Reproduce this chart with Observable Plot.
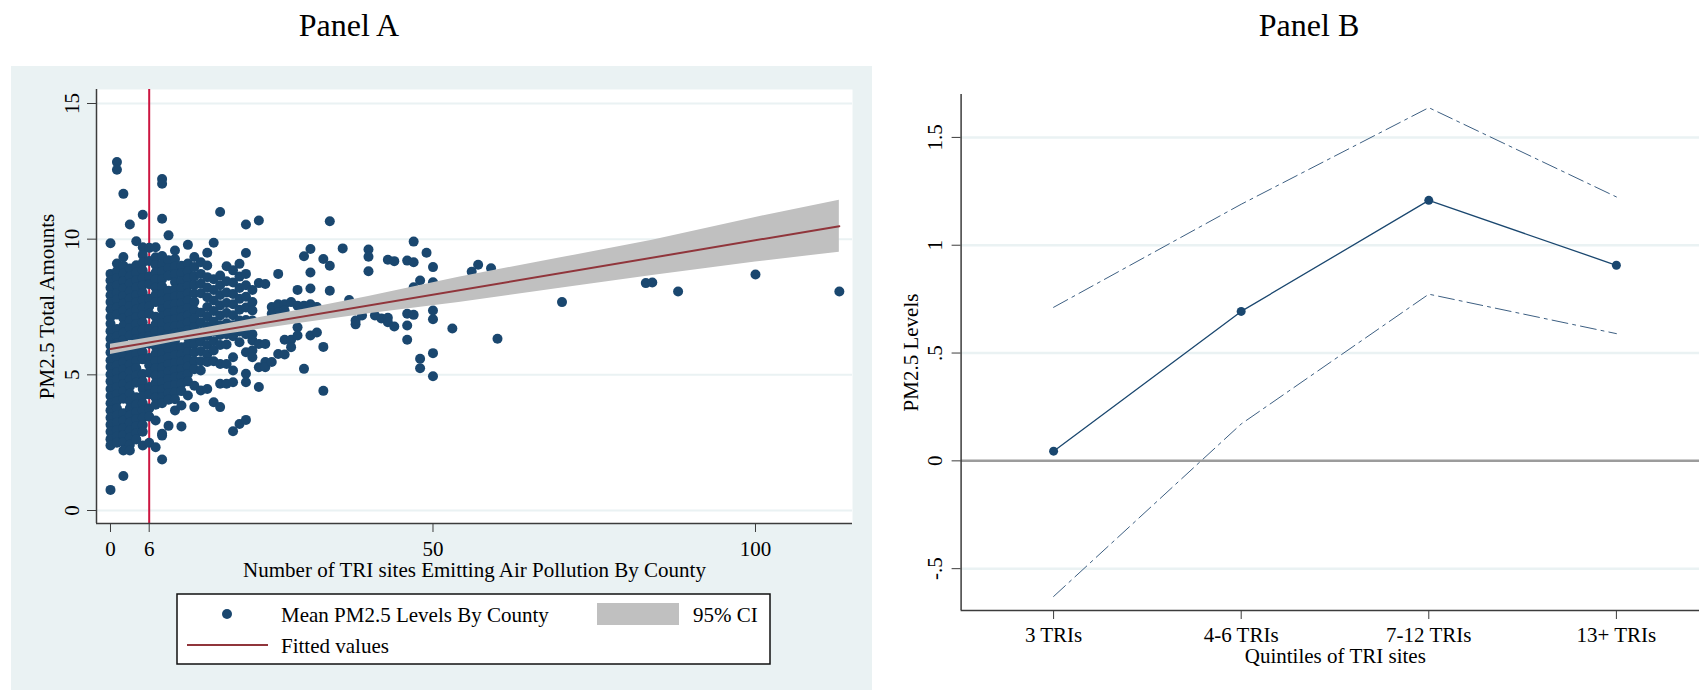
<!DOCTYPE html>
<html>
<head>
<meta charset="utf-8">
<script src="https://cdn.jsdelivr.net/npm/d3@7"></script>
<script src="https://cdn.jsdelivr.net/npm/@observablehq/plot@0.6"></script>
<style>
  html, body { margin: 0; padding: 0; background: #fff; }
  #wrap { position: relative; width: 1699px; height: 690px; overflow: hidden; background: #fff; }
  #wrap svg { position: absolute; }
</style>
</head>
<body>
<div id="wrap"></div>
<script>
const FONT = '"Liberation Serif", "Times New Roman", Times, serif';

// ---------------- Panel A data ----------------
// Each row: [number of TRI sites, PM2.5 values of counties with that count ...]
const triCountyColumns = [
  [0, 9.85, 8.72, 8.48, 8.21, 7.93, 7.68, 7.42, 7.13, 6.88, 6.61, 6.33, 6.08, 5.82, 5.54, 5.29, 5.01, 4.76, 4.48, 4.22, 3.95, 3.69, 3.42, 3.16, 2.9, 2.63, 2.4, 0.76],
  [1, 12.84, 12.56, 9.1, 8.83, 8.57, 8.29, 8.02, 7.77, 7.49, 7.22, 6.69, 6.42, 6.16, 5.88, 5.62, 5.35, 5.09, 4.82, 4.55, 4.29, 4.03, 3.76, 3.49, 3.23, 2.97, 2.72, 2.5],
  [2, 11.67, 9.34, 9.02, 8.73, 8.46, 8.18, 7.91, 7.63, 7.36, 7.09, 6.81, 6.55, 6.28, 6.02, 5.74, 5.47, 5.2, 4.93, 4.66, 4.39, 4.12, 3.58, 3.31, 3.04, 2.78, 2.52, 2.21, 1.27],
  [3, 10.54, 8.92, 8.63, 8.36, 8.08, 7.81, 7.54, 7.26, 6.99, 6.73, 6.45, 5.91, 5.64, 5.38, 5.11, 4.84, 4.57, 4.3, 4.03, 3.77, 3.5, 3.23, 2.96, 2.68, 2.42, 2.21],
  [4, 9.92, 9.04, 8.76, 8.49, 8.22, 7.94, 7.67, 7.4, 7.12, 6.86, 6.59, 6.32, 6.05, 5.78, 5.51, 5.24, 4.97, 4.71, 4.17, 3.9, 3.63, 3.36, 3.1, 2.86, 2.62],
  [5, 10.9, 9.7, 9.42, 9.13, 8.84, 8.57, 8.3, 8.02, 7.75, 7.47, 7.2, 6.93, 6.66, 6.38, 6.11, 5.84, 5.57, 5.03, 4.75, 4.48, 4.22, 3.95, 3.68, 3.42, 3.15, 2.9, 2.4],
  [6, 9.68, 9.2, 8.62, 8.34, 7.8, 7.52, 7.25, 6.7, 6.42, 6.15, 5.62, 5.35, 5.08, 4.55, 4.28, 3.76, 3.46, 2.5],
  [7, 9.7, 9.33, 9.05, 8.77, 8.5, 8.22, 7.95, 7.68, 7.14, 6.86, 6.59, 6.32, 6.05, 5.78, 5.51, 5.24, 4.97, 4.7, 4.43, 4.16, 3.9, 3.32, 2.33],
  [8, 12.22, 12.04, 10.75, 9.38, 9.08, 8.8, 8.52, 8.25, 7.98, 7.7, 7.43, 7.16, 6.89, 6.61, 6.34, 6.07, 5.8, 5.53, 5.26, 4.99, 4.72, 4.45, 4.18, 3.95, 2.83, 2.76, 1.88],
  [9, 10.14, 9.22, 8.93, 8.65, 8.1, 7.83, 7.56, 7.28, 7.01, 6.74, 6.47, 6.2, 5.93, 5.66, 5.39, 5.12, 4.85, 4.58, 4.32, 4.08, 3.12],
  [10, 9.58, 9.27, 8.98, 8.7, 8.42, 8.15, 7.88, 7.6, 7.33, 7.06, 6.79, 6.52, 6.25, 5.98, 5.71, 5.44, 5.17, 4.9, 4.63, 4.36, 4.1, 3.69],
  [11, 9.02, 8.74, 8.46, 8.19, 7.91, 7.64, 7.37, 7.1, 6.83, 6.56, 6.02, 5.75, 5.48, 5.21, 4.94, 4.67, 4.4, 3.87, 3.1],
  [12, 9.79, 9.1, 8.82, 8.54, 8.27, 8.0, 7.73, 7.46, 7.19, 6.92, 6.65, 6.38, 6.11, 5.84, 5.57, 5.3, 5.03, 4.76, 4.24],
  [13, 9.34, 8.97, 8.63, 8.31, 8.0, 7.69, 7.38, 7.07, 6.76, 6.45, 6.14, 5.83, 5.52, 5.21, 4.6, 3.81],
  [14, 9.15, 8.72, 8.36, 8.01, 7.29, 6.93, 6.58, 6.22, 5.87, 5.5, 5.16, 4.42],
  [15, 9.5, 9.03, 8.6, 8.22, 7.86, 7.5, 7.15, 6.8, 6.45, 6.1, 5.75, 5.47, 4.48],
  [16, 9.87, 8.52, 8.13, 7.74, 7.35, 6.97, 6.6, 6.24, 5.9, 5.5, 3.99],
  [17, 11.0, 8.66, 8.3, 7.94, 7.56, 7.19, 6.83, 6.47, 6.1, 5.4, 4.67, 3.81],
  [18, 9.0, 8.45, 8.03, 7.65, 7.28, 6.9, 6.5, 6.12, 5.4, 4.67],
  [19, 8.85, 8.4, 7.98, 7.6, 7.2, 6.83, 6.42, 5.65, 5.16, 4.73, 2.92],
  [20, 9.09, 8.62, 8.2, 7.8, 7.4, 7.0, 6.6, 6.2, 3.19],
  [21, 10.54, 9.49, 8.72, 8.3, 7.88, 7.48, 7.02, 6.5, 5.83, 5.04, 4.73, 3.34],
  [22, 8.13, 7.68, 7.37, 7.0, 6.5, 6.27, 5.9, 5.65],
  [23, 10.69, 8.38, 6.14, 5.28, 4.55],
  [24, 8.35, 6.14, 5.47, 5.28],
  [25, 7.5, 7.25, 5.47],
  [26, 8.72, 7.6, 7.3, 5.77],
  [27, 7.6, 7.36, 6.29, 5.75],
  [28, 7.68, 6.29, 6.02],
  [29, 8.13, 7.55, 6.75, 6.45],
  [30, 9.37, 7.55, 5.22],
  [31, 9.64, 8.77, 8.18, 7.6, 6.45],
  [32, 7.5, 6.56],
  [33, 9.27, 6.03, 4.41],
  [34, 10.66, 9.02, 8.1],
  [36, 9.66],
  [37, 7.76],
  [38, 6.86, 7.0],
  [39, 7.19],
  [40, 9.62, 9.35, 8.82],
  [41, 7.19],
  [42, 7.08],
  [43, 9.24, 7.1, 6.94],
  [44, 9.19, 6.78],
  [46, 9.21, 7.25, 6.82, 6.29],
  [47, 9.91, 9.15, 8.23, 7.21],
  [48, 8.48, 5.59, 5.24],
  [49, 9.5],
  [50, 8.97, 8.41, 7.37, 7.05, 5.8, 4.95],
  [53, 6.71],
  [56, 8.8],
  [57, 9.06],
  [59, 8.93],
  [60, 6.33],
  [70, 7.68],
  [83, 8.38],
  [84, 8.4],
  [88, 8.07],
  [100, 8.7],
  [113, 8.07]
];
const fitX = [0, 113];
const fitY = [5.95, 10.48];
const ciX  = [0,    10,   20,   30,   40,   54,   70,   84,   100,   113];
const ciLo = [5.75, 6.22, 6.57, 6.92, 7.25, 7.67, 8.2,  8.66, 9.16,  9.52];
const ciHi = [6.13, 6.52, 6.97, 7.42, 7.89, 8.6,  9.32, 9.96, 10.8,  11.43];
const xTicksA = [0, 6, 50, 100];
const yTicksA = [0, 5, 10, 15];
const refLineA = [6];
const yTitleA = "PM2.5 Total Amounts";
const xTitleA = "Number of TRI sites Emitting Air Pollution By County";

// ---------------- Panel B data ----------------
const quintileLabels = ["3 TRIs", "4-6 TRIs", "7-12 TRIs", "13+ TRIs"];
const estB = [0.045, 0.693, 1.208, 0.907];
const loB  = [-0.629, 0.171, 0.773, 0.590];
const hiB  = [0.712, 1.19, 1.638, 1.224];
const yTicksB = [-0.5, 0, 0.5, 1, 1.5];
const yTickLabelsB = ["-.5", "0", ".5", "1", "1.5"];
const yTitleB = "PM2.5 Levels";
const xTitleB = "Quintiles of TRI sites";

// ---------------- build tables ----------------
const countyPoints = triCountyColumns.flatMap(([x, ...ys]) => ys.map(y => ({x, y})));
const fitRows = fitX.map((x, i) => ({x, y: fitY[i]}));
const ciRows = ciX.map((x, i) => ({x, lo: ciLo[i], hi: ciHi[i]}));
const rowsB = quintileLabels.map((q, i) => ({pos: i + 1, label: q, est: estB[i], lo: loB[i], hi: hiB[i]}));

const AXIS = "#3c3c3c";
const wrap = document.getElementById("wrap");

// ---------------- Panel A ----------------
const xDomA = [-2.17, 115.04];
const yDomA = [-0.479, 15.516];
const plotA = Plot.plot({
  width: 861, height: 624,
  marginLeft: 85, marginRight: 20, marginTop: 23, marginBottom: 167,
  style: {background: "#eaf2f3", fontFamily: FONT, fontSize: "21px", color: "#000"},
  x: {domain: xDomA, axis: null},
  y: {domain: yDomA, axis: null},
  marks: [
    Plot.frame({fill: "#ffffff", stroke: "none"}),
    Plot.gridY(yTicksA, {stroke: "#eaf2f3", strokeOpacity: 1, strokeWidth: 2}),
    Plot.ruleX(refLineA, {stroke: "#cc1540", strokeWidth: 2}),
    Plot.dot(countyPoints, {x: "x", y: "y", r: 5, fill: "#1a476f"}),
    Plot.area(ciRows, {x1: "x", y1: "lo", y2: "hi", fill: "#c0c0c0"}),
    Plot.line(fitRows, {x: "x", y: "y", stroke: "#90353b", strokeWidth: 2}),
    Plot.ruleY([yDomA[0]], {stroke: AXIS, strokeWidth: 1.5}),
    Plot.ruleX([xDomA[0]], {stroke: AXIS, strokeWidth: 1.5}),
    Plot.axisX(xTicksA, {tickSize: 9, tickPadding: 9, stroke: AXIS, label: null, tickFormat: d => String(d)}),
    Plot.axisY(yTicksA, {tickSize: 9, stroke: AXIS, label: null, tickFormat: () => ""}),
    Plot.text(yTicksA, {x: () => xDomA[0], y: d => d, text: d => String(d), rotate: -90, dx: -24, textAnchor: "middle", lineAnchor: "middle"}),
    Plot.text([yTitleA], {frameAnchor: "left", text: d => d, dx: -49, rotate: -90, textAnchor: "middle", lineAnchor: "middle"}),
    Plot.text([xTitleA], {frameAnchor: "bottom", text: d => d, dy: 47, textAnchor: "middle", lineAnchor: "middle"})
  ]
});
plotA.style.left = "11px";
plotA.style.top = "66px";
wrap.appendChild(plotA);

// ---------------- Panel B ----------------
const xDomB = [0.507, 4.443];
const yDomB = [-0.694, 1.699];
const plotB = Plot.plot({
  width: 826, height: 624,
  marginLeft: 87.6, marginRight: 0, marginTop: 28, marginBottom: 80,
  style: {background: "transparent", fontFamily: FONT, fontSize: "21px", color: "#000"},
  x: {domain: xDomB, axis: null},
  y: {domain: yDomB, axis: null},
  marks: [
    Plot.gridY(yTicksB.filter(v => v !== 0), {stroke: "#eaf2f3", strokeOpacity: 1, strokeWidth: 2.5}),
    Plot.ruleY([0], {stroke: "#9c9c9c", strokeWidth: 2.5}),
    Plot.line(rowsB, {x: "pos", y: "hi", stroke: "#3d5f82", strokeWidth: 1, strokeDasharray: "16,5,3,5"}),
    Plot.line(rowsB, {x: "pos", y: "lo", stroke: "#3d5f82", strokeWidth: 1, strokeDasharray: "16,5,3,5"}),
    Plot.line(rowsB, {x: "pos", y: "est", stroke: "#1a476f", strokeWidth: 1.3}),
    Plot.dot(rowsB, {x: "pos", y: "est", r: 4.5, fill: "#1a476f"}),
    Plot.ruleY([yDomB[0]], {stroke: AXIS, strokeWidth: 1.5}),
    Plot.ruleX([xDomB[0]], {stroke: AXIS, strokeWidth: 1.5}),
    Plot.axisX(rowsB.map(d => d.pos), {tickSize: 9, tickPadding: 8, stroke: AXIS, label: null, tickFormat: d => quintileLabels[d - 1]}),
    Plot.axisY(yTicksB, {tickSize: 9, stroke: AXIS, label: null, tickFormat: () => ""}),
    Plot.text(yTicksB, {x: () => xDomB[0], y: d => d, text: (d, i) => yTickLabelsB[i], rotate: -90, dx: -25.6, textAnchor: "middle", lineAnchor: "middle"}),
    Plot.text([yTitleB], {frameAnchor: "left", text: d => d, dx: -49.6, rotate: -90, textAnchor: "middle", lineAnchor: "middle"}),
    Plot.text([xTitleB], {frameAnchor: "bottom", text: d => d, dy: 46, dx: 5, textAnchor: "middle", lineAnchor: "middle"})
  ]
});
plotB.style.left = "873px";
plotB.style.top = "66px";
wrap.appendChild(plotB);

// ---------------- Titles and legend (overlay) ----------------
const NS = "http://www.w3.org/2000/svg";
function el(tag, attrs, parent, txt) {
  const e = document.createElementNS(NS, tag);
  for (const k in attrs) e.setAttribute(k, attrs[k]);
  if (txt != null) e.textContent = txt;
  parent.appendChild(e);
  return e;
}
const ov = el("svg", {width: 1699, height: 690, viewBox: "0 0 1699 690"}, wrap);
ov.style.left = "0px"; ov.style.top = "0px"; ov.style.pointerEvents = "none";
ov.style.fontFamily = FONT;
el("text", {x: 349, y: 36, "text-anchor": "middle", "font-size": 32, fill: "#000"}, ov, "Panel A");
el("text", {x: 1309, y: 36, "text-anchor": "middle", "font-size": 32, fill: "#000"}, ov, "Panel B");

el("rect", {x: 177, y: 594, width: 593, height: 70, fill: "#fff", stroke: "#111", "stroke-width": 1.5}, ov);
el("circle", {cx: 227, cy: 614, r: 5, fill: "#1a476f"}, ov);
el("text", {x: 281, y: 622, "font-size": 21, fill: "#000"}, ov, "Mean PM2.5 Levels By County");
el("rect", {x: 597, y: 603, width: 82, height: 22, fill: "#c0c0c0"}, ov);
el("text", {x: 693, y: 622, "font-size": 21, fill: "#000"}, ov, "95% CI");
el("line", {x1: 187, x2: 268, y1: 645, y2: 645, stroke: "#90353b", "stroke-width": 2}, ov);
el("text", {x: 281, y: 653, "font-size": 21, fill: "#000"}, ov, "Fitted values");
</script>
</body>
</html>
